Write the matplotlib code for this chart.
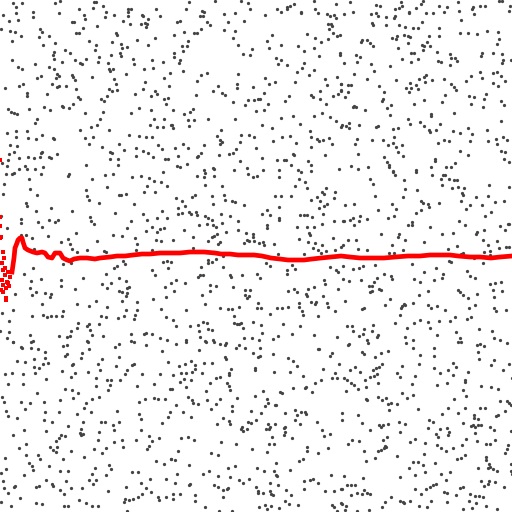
import matplotlib
matplotlib.use("Agg")
import matplotlib.pyplot as plt
import numpy as np

dots_top = [
    (13,3),(22,3),(55,3),(60,1),(16,7),(16,13),(33,12),(59,13),(3,15),(33,17),(9,21),(18,20),(72,22),(74,22),(79,9),(84,15),
    (85,19),(94,2),(96,2),(93,8),(103,6),(106,12),(105,17),(114,15),(83,28),(97,26),(128,9),(131,9),(128,12),(128,16),(123,21),
    (130,24),(142,15),(143,16),(148,19),(141,24),(145,23),(147,24),(146,27),(156,9),(160,16),(1,29),(10,31),(15,32),(21,36),
    (12,41),(40,29),(42,32),(39,37),(49,36),(76,33),(79,33),(89,41),(116,33),(117,35),(112,42),(96,45),(95,50),(121,44),(122,48),
    (127,47),(137,40),(148,45),(155,38),(43,45),(55,43),(54,52),(53,55),(54,59),(65,50),(70,53),(75,60),(80,63),(82,64),(86,59),
    (99,57),(98,62),(111,55),(120,53),(121,56),(133,59),(134,64),(108,63),(12,60),(35,64),(18,67),(22,69),(49,67),(54,69),(62,62),
    (152,60),(163,62),(153,68),(144,69),(170,73),(126,74),(109,69),(110,71),(113,69),(92,77),(57,74),(59,76),(56,78),(41,76),
    (37,78),(72,75),(73,77),(75,80),(114,79),(116,84),(145,82),(164,78),(169,86),(5,88),(19,86),(23,84),(52,84),(57,87),(59,86),
    (66,86),(76,89),(109,89),(112,91),(117,90),(135,94),(143,89),(155,91),(157,94),(151,96),(27,93),(27,96),(47,94),(78,97),
    (80,99),(101,99),(104,101),(107,96),(164,99),(168,98),(166,104),(8,109),(11,112),(14,113),(17,114),(29,109),(44,107),
    (50,110),(62,106),(63,107),(69,108),(73,104),(85,113),(103,112),(131,113),(139,108),(151,110),(37,119),(35,123),(100,119),
    (154,119),(164,119),(150,125),(157,127),(163,127),(171,125),(97,125),(91,127),(80,130),(7,133),(16,131),(27,131),(42,135),
    (16,137),(28,138),(36,139),(53,138),(54,139),(85,138),(93,137),(109,130),(129,135),(139,136),(146,137),(152,137),(10,145),
    (17,146),(89,144),(102,147),(119,144),(136,148),(158,145),(162,149),(14,152),(9,154),(41,153),(42,152),(57,154),(110,152),
    (112,153),(124,150),(143,151),(148,153),(136,156),(153,157),(165,159),(168,159),(19,158),(28,157),(34,158),(49,157),(51,158),
    (40,157),(110,159),(118,159),(8,160),(2,163),(7,166),(25,166),(19,169),(27,169),(35,169),(43,167),(86,165),(118,165),
    (189,2),(215,1),(241,1),(248,3),(186,9),(202,11),(204,12),(200,16),(203,16),(224,14),(235,13),(250,9),(265,15),(277,9),
    (281,12),(287,9),(287,7),(290,6),(294,4),(301,12),(301,13),(314,1),(315,9),(318,13),(336,4),(327,14),(330,16),(334,15),
    (336,18),(328,24),(331,24),(332,26),(329,29),(333,33),(337,36),(340,35),(177,22),(180,21),(207,22),(210,25),(228,22),
    (244,21),(224,30),(235,31),(194,33),(197,33),(201,29),(174,35),(184,32),(188,41),(187,46),(182,46),(183,51),(174,53),
    (174,57),(180,60),(179,63),(233,38),(238,45),(252,49),(250,55),(243,54),(272,35),(267,41),(269,48),(281,45),(307,34),
    (315,38),(321,42),(328,39),(298,46),(304,51),(314,48),(319,56),(340,53),(340,55),(276,58),(281,60),(278,64),(287,65),
    (304,63),(302,68),(297,72),(314,70),(309,75),(183,71),(201,75),(207,73),(238,74),(197,81),(218,86),(237,84),(237,88),
    (253,87),(265,78),(269,84),(275,82),(295,82),(325,79),(337,77),(327,85),(341,84),(320,91),(341,91),(213,91),(222,93),
    (225,95),(196,95),(264,93),(260,99),(258,99),(254,100),(248,100),(245,105),(233,102),(268,104),(289,96),(285,101),(311,95),
    (313,97),(320,99),(326,104),(333,96),(338,94),(173,110),(184,114),(190,112),(193,109),(188,120),(194,120),(189,126),
    (208,119),(235,119),(256,111),(264,110),(281,118),(293,116),(314,116),(322,113),(330,117),(336,121),(341,127),(172,125),
    (173,128),(262,125),(272,128),(300,124),(310,131),(221,130),(217,136),(220,140),(222,142),(220,144),(241,135),(240,142),
    (249,135),(254,137),(273,141),(282,137),(290,136),(296,143),(311,137),(311,147),(317,139),(319,141),(323,140),(329,138),
    (332,144),(175,148),(183,144),(188,148),(204,145),(201,153),(197,157),(198,156),(178,156),(219,155),(229,154),(233,153),
    (236,149),(256,148),(262,158),(277,160),(284,160),(286,160),(293,154),(294,155),(308,161),(311,165),(325,155),(177,166),
    (180,167),(187,164),(204,170),(213,168),(214,169),(234,170),(240,161),(247,168),(263,170),(279,170),(291,165),(298,170),
    (339,169),
    (350,2),(376,5),(380,6),(401,2),(402,6),(399,8),(395,9),(421,4),(423,1),(439,6),(447,7),(458,2),(459,11),(473,7),(472,9),
    (474,14),(480,6),(485,6),(499,1),(502,1),(510,6),(509,11),(344,14),(353,12),(371,14),(376,13),(378,16),(386,17),(394,18),
    (395,16),(409,12),(409,13),(416,8),(426,13),(433,13),(444,12),(461,20),(422,22),(418,28),(439,28),(439,36),(429,36),
    (460,33),(468,33),(477,34),(487,31),(498,32),(372,23),(373,25),(386,25),(399,25),(405,27),(413,28),(392,38),(396,39),
    (397,36),(404,35),(408,36),(410,37),(408,43),(361,42),(362,40),(367,40),(370,43),(373,46),(398,48),(411,53),(414,53),
    (422,45),(424,46),(427,42),(430,46),(423,50),(437,52),(450,54),(451,58),(455,58),(457,61),(450,65),(438,61),(441,62),
    (402,59),(411,62),(418,59),(356,55),(360,57),(357,62),(344,63),(371,64),(374,71),(390,66),(354,74),(367,79),(499,39),
    (497,44),(493,53),(482,53),(481,56),(502,54),(503,60),(502,63),(511,60),(480,72),(493,73),(497,72),(501,76),(505,81),
    (493,83),(498,86),(466,81),(471,76),(482,78),(341,84),(348,85),(351,85),(341,90),(348,92),(345,97),(379,86),(384,92),
    (383,99),(382,101),(387,108),(391,105),(390,115),(396,80),(406,88),(410,83),(411,88),(416,85),(418,89),(409,92),(419,79),
    (424,77),(426,75),(425,82),(432,80),(444,79),(451,84),(454,87),(456,90),(445,95),(442,102),(424,100),(414,104),(469,96),
    (474,97),(486,94),(484,99),(471,104),(483,107),(501,101),(504,105),(354,106),(353,107),(356,107),(365,110),(431,114),
    (431,116),(454,113),(342,125),(346,126),(349,123),(349,128),(359,125),(376,127),(378,126),(408,119),(410,124),(393,129),
    (398,128),(420,122),(424,126),(429,130),(430,132),(436,130),(440,124),(453,131),(460,133),(468,128),(472,134),(487,130),
    (501,121),(357,139),(355,144),(372,140),(383,140),(394,137),(393,143),(396,147),(388,145),(402,145),(398,152),(403,156),
    (438,143),(444,140),(449,141),(460,151),(470,141),(468,155),(488,141),(496,139),(497,144),(503,137),(507,140),(501,151),
    (505,152),(358,154),(384,157),(387,162),(389,165),(389,167),(393,171),(351,166),(358,169),(368,167),(416,170),(431,167),
    (435,159),(435,161),(446,167),(451,167),(455,163),(504,159),(509,162),
]

dots_middle = [
    (6,174),(12,174),(14,173),(41,174),(68,176),(69,174),(92,179),(105,175),(113,174),(132,177),(141,176),(149,178),(154,181),
    (163,172),(161,182),(4,184),(30,189),(29,179),(107,187),(86,190),(87,196),(89,200),(99,203),(119,195),(126,194),(121,195),
    (144,192),(147,186),(155,192),(167,186),(3,194),(37,195),(26,203),(27,206),(36,211),(51,208),(72,211),(115,213),(134,204),
    (143,214),(162,211),(157,218),(167,218),(1,216),(21,219),(21,223),(38,222),(42,227),(49,220),(55,222),(58,220),(90,217),
    (91,221),(94,224),(131,221),(147,220),(152,227),(164,228),(7,228),(127,228),(146,231),(160,229),(135,238),(137,244),
    (156,240),(161,241),(157,232),(21,235),(26,235),(32,238),(48,236),(61,242),(68,239),(70,244),(76,233),(72,249),(97,241),
    (113,235),(122,236),(104,251),(106,252),(77,252),(87,250),(136,250),(152,250),(34,249),(167,261),(168,268),(163,262),
    (63,264),(71,263),(33,268),(114,268),(117,266),(123,261),(125,264),(152,270),(155,275),(24,274),(31,281),(41,279),(61,280),
    (61,286),(83,278),(75,289),(106,274),(102,284),(107,288),(111,283),(119,278),(126,281),(127,288),(129,287),(119,291),
    (122,292),(127,293),(165,287),(15,294),(30,288),(36,292),(45,293),(51,294),(50,297),(32,295),(77,304),(96,301),(122,301),
    (126,296),(137,302),(137,310),(153,299),(166,297),(42,304),(13,310),(2,313),(9,321),(32,316),(43,315),(47,317),(51,316),
    (56,316),(62,316),(63,311),(78,323),(89,306),(89,324),(87,326),(99,324),(101,316),(106,317),(107,307),(118,318),(124,316),
    (126,310),(134,319),(135,315),(161,309),(166,317),(30,335),(33,341),(7,338),(13,342),(59,336),(67,337),(70,336),(71,331),
    (90,330),(92,335),(87,341),(103,336),(131,334),(131,341),(144,334),(146,333),(152,334),(160,338),(167,340),(77,328),
    (0,331),(9,332),
    (197,176),(204,177),(205,173),(214,176),(205,185),(222,186),(248,174),(253,177),(257,176),(279,177),(299,179),(301,172),
    (305,182),(311,171),(295,186),(307,188),(326,188),(322,192),(324,194),(320,201),(335,192),(334,198),(317,197),(311,200),
    (291,196),(281,196),(275,196),(279,207),(279,220),(270,215),(267,210),(262,214),(176,198),(192,197),(195,195),(182,201),
    (185,206),(178,208),(178,214),(182,213),(189,212),(191,214),(196,212),(197,215),(205,216),(212,196),(213,204),(224,195),
    (225,200),(232,201),(235,202),(244,205),(221,214),(230,216),(222,223),(208,218),(212,220),(199,225),(213,225),(207,224),
    (216,227),(226,232),(217,234),(214,236),(218,244),(220,242),(208,241),(212,237),(193,237),(184,230),(173,240),(193,248),
    (238,221),(246,233),(253,234),(249,241),(244,243),(247,240),(254,241),(253,237),(259,243),(263,242),(264,245),(238,230),
    (267,225),(267,228),(274,244),(279,218),(300,215),(304,215),(307,215),(312,217),(319,208),(324,206),(327,204),(323,214),
    (334,221),(322,224),(314,227),(307,227),(297,227),(299,239),(309,233),(310,235),(308,242),(315,243),(322,245),(313,248),
    (318,250),(321,253),(326,251),(333,238),(335,250),(304,254),(278,254),(171,262),(208,260),(208,263),(212,262),(216,259),
    (223,256),(223,267),(266,263),(270,266),(287,270),(287,274),(292,265),(295,269),(330,267),(336,270),(338,272),(176,280),
    (171,283),(174,291),(185,283),(198,277),(200,275),(203,275),(201,267),(230,275),(231,277),(242,275),(257,274),(260,278),
    (233,287),(210,285),(210,291),(216,286),(202,295),(205,304),(245,290),(250,290),(245,295),(247,298),(249,296),(288,291),
    (294,289),(297,292),(308,289),(307,296),(306,294),(314,287),(324,280),(325,284),(338,289),(323,296),(311,302),(316,302),
    (315,304),(327,303),(328,307),(335,311),(299,303),(299,307),(302,311),(303,315),(318,316),(220,308),(228,309),(232,309),
    (234,316),(239,307),(258,303),(257,308),(261,308),(277,308),(282,308),(288,307),(270,314),(186,310),(173,320),(176,326),
    (190,326),(198,325),(203,322),(207,323),(208,329),(212,330),(234,323),(237,324),(239,324),(241,323),(243,328),(253,322),
    (261,325),(262,333),(259,340),(252,338),(244,338),(283,324),(292,334),(300,326),(314,335),(337,337),(273,339),(278,336),
    (199,331),(200,337),(205,341),(213,340),(186,340),
    (393,172),(395,175),(416,172),(432,175),(441,179),(443,175),(445,175),(449,179),(454,180),(457,180),(442,185),(452,188),
    (458,187),(464,188),(462,193),(463,195),(489,185),(509,187),(370,179),(373,184),(404,180),(405,189),(417,190),(403,197),
    (375,196),(421,201),(423,203),(428,204),(429,207),(439,203),(461,201),(470,205),(476,197),(488,196),(495,202),(504,201),
    (482,205),(466,209),(491,212),(485,216),(345,205),(354,204),(378,210),(392,204),(396,209),(394,216),(388,218),(421,210),
    (416,213),(459,221),(465,225),(344,221),(343,221),(350,220),(353,218),(354,225),(359,221),(360,216),(367,219),(412,222),
    (412,225),(408,225),(381,234),(399,234),(398,237),(405,240),(392,245),(403,250),(389,253),(394,253),(424,242),(430,227),
    (442,234),(453,233),(477,232),(476,234),(484,230),(500,226),(508,224),(509,224),(505,230),(483,240),(488,245),(484,252),
    (490,251),(499,248),(506,247),(509,247),(497,241),(461,254),(463,253),(457,246),(448,249),(474,258),(483,263),(490,255),
    (348,240),(356,240),(343,245),(341,247),(358,249),(367,250),(343,266),(353,269),(359,268),(363,266),(375,265),(384,274),
    (391,276),(392,279),(377,278),(374,282),(349,281),(361,280),(343,279),(412,264),(414,279),(420,282),(424,272),(436,268),
    (443,274),(442,278),(434,280),(449,261),(451,262),(467,271),(470,276),(475,278),(490,284),(495,283),(501,282),(502,291),
    (493,290),(494,297),(458,290),(460,292),(463,295),(468,298),(477,294),(345,301),(362,309),(364,308),(369,286),(372,286),
    (370,292),(372,291),(379,289),(381,290),(390,299),(385,305),(402,306),(404,304),(401,308),(405,305),(413,303),(419,295),
    (428,291),(428,305),(431,308),(437,306),(445,310),(455,317),(450,321),(439,321),(420,320),(428,322),(430,328),(400,315),
    (395,323),(407,328),(414,323),(469,308),(475,305),(494,308),(496,311),(506,310),(467,319),(471,317),(347,326),(352,326),
    (353,331),(364,329),(373,325),(372,331),(359,336),(363,334),(367,340),(377,337),(378,335),(405,337),(413,340),(437,335),
    (456,332),(460,338),(458,342),(479,329),(494,338),(492,331),(500,340),
]

dots_bottom = [
    (13,342),(31,342),(21,347),(22,348),(31,348),(38,349),(45,352),(63,346),(67,345),(88,342),(89,349),(115,347),(119,344),
    (134,342),(146,345),(162,351),(45,358),(34,359),(17,361),(25,362),(43,364),(48,363),(39,368),(34,367),(65,356),(67,354),
    (82,353),(81,358),(73,364),(72,365),(62,371),(75,373),(88,372),(98,364),(102,359),(100,370),(119,357),(116,366),(132,365),
    (134,364),(127,370),(125,374),(142,374),(168,362),(160,374),(5,374),(12,373),(23,374),(35,373),(8,384),(23,384),(46,379),
    (71,377),(96,378),(96,386),(107,380),(111,380),(110,385),(120,380),(108,390),(137,386),(154,384),(65,389),(72,390),(78,393),
    (37,393),(2,397),(4,402),(21,402),(30,403),(44,402),(60,400),(73,398),(86,403),(92,399),(99,397),(139,402),(145,399),
    (154,398),(158,399),(165,399),(170,389),(6,411),(8,416),(17,418),(25,409),(45,412),(44,420),(59,412),(77,414),(84,408),
    (91,412),(117,411),(139,414),(141,419),(170,412),(168,417),(162,423),(52,422),(68,426),(83,422),(101,422),(105,422),
    (113,425),(119,422),(114,430),(141,430),(149,436),(152,441),(159,438),(136,440),(147,449),(149,446),(99,432),(98,440),
    (81,429),(80,433),(83,434),(81,435),(24,430),(46,431),(13,435),(65,436),(61,435),(59,438),(56,441),(19,448),(26,444),
    (50,447),(53,450),(57,447),(56,452),(71,451),(94,449),(102,453),(106,448),(114,442),(122,440),(123,447),(5,458),(26,455),
    (38,455),(40,459),(63,459),(84,457),(29,463),(32,466),(33,470),(6,469),(1,473),(49,466),(60,471),(68,471),(95,468),
    (109,465),(111,469),(106,475),(132,472),(138,472),(156,461),(164,464),(171,459),(166,479),(150,479),(141,483),(126,487),
    (3,481),(4,488),(8,493),(14,487),(15,486),(24,475),(36,487),(39,486),(46,480),(52,484),(53,486),(60,490),(64,494),(71,488),
    (82,488),(66,481),(89,480),(92,474),(96,480),(93,484),(108,491),(151,492),(158,497),(159,500),(166,497),(138,497),
    (142,494),(146,488),(133,499),(129,500),(125,499),(124,502),(127,511),(79,500),(86,503),(92,506),(98,506),(68,506),
    (64,506),(42,504),(36,503),(20,498),(11,506),(1,502),
    (176,344),(186,342),(206,342),(214,342),(220,344),(225,345),(226,343),(236,348),(239,345),(245,348),(253,353),(260,348),
    (258,357),(260,356),(273,354),(288,358),(293,361),(297,366),(290,372),(303,376),(318,349),(319,349),(332,353),(330,356),
    (339,364),(323,369),(335,373),(332,378),(337,378),(321,380),(315,383),(312,392),(306,387),(305,388),(293,388),(282,393),
    (280,392),(274,372),(255,368),(255,370),(263,391),(255,396),(267,399),(268,403),(265,406),(275,405),(276,405),(251,411),
    (261,413),(199,350),(212,363),(204,363),(191,361),(195,365),(185,364),(179,366),(195,369),(192,372),(181,373),(186,373),
    (202,373),(173,375),(184,379),(180,382),(191,380),(186,387),(172,389),(210,383),(216,378),(220,377),(227,383),(229,386),
    (230,390),(229,375),(229,373),(231,369),(225,357),(226,359),(206,391),(220,399),(216,404),(211,409),(207,400),(198,404),
    (193,403),(192,400),(188,397),(176,405),(183,412),(191,417),(232,406),(232,411),(237,398),(223,418),(217,424),(229,421),
    (230,424),(248,422),(251,423),(242,427),(241,429),(247,429),(243,431),(256,420),(268,424),(270,427),(269,429),(266,429),
    (275,424),(285,413),(295,410),(297,415),(295,420),(300,424),(301,412),(305,412),(306,414),(317,422),(322,430),(324,436),
    (330,434),(284,428),(285,432),(284,435),(285,427),(292,438),(272,437),(274,444),(269,444),(267,452),(252,449),(236,444),
    (221,442),(194,440),(188,437),(181,438),(178,451),(211,453),(218,455),(175,460),(171,459),(189,465),(177,474),(175,483),
    (190,484),(189,485),(203,474),(209,471),(214,485),(218,476),(218,487),(223,490),(227,489),(228,488),(223,497),(230,477),
    (228,468),(235,466),(239,480),(243,483),(249,479),(256,487),(258,493),(258,491),(263,493),(270,491),(271,494),(273,495),
    (270,483),(277,476),(276,475),(274,471),(264,471),(257,468),(276,463),(290,470),(299,461),(303,459),(307,447),(328,448),
    (318,453),(307,451),(310,480),(313,479),(318,483),(304,481),(304,489),(325,491),(334,491),(331,475),(342,489),(286,490),
    (291,495),(285,501),(289,504),(298,505),(278,485),(271,506),(279,508),(259,507),(265,505),(267,509),(232,511),(219,511),
    (205,507),(195,501),(195,495),(180,494),(173,494),(173,499),(341,503),(332,505),(334,507),(337,511),
    (349,344),(348,345),(368,343),(362,352),(364,354),(375,357),(381,353),(388,351),(406,343),(413,348),(420,355),(434,348),
    (434,356),(461,342),(477,345),(480,344),(484,346),(478,352),(479,359),(507,343),(494,360),(491,365),(509,364),(503,370),
    (512,378),(355,367),(350,370),(360,372),(373,370),(376,368),(379,367),(382,364),(377,374),(374,376),(370,377),(365,380),
    (347,380),(344,378),(351,383),(354,385),(358,389),(346,391),(378,383),(366,387),(397,373),(400,377),(402,366),(415,376),
    (412,384),(419,364),(434,368),(440,373),(448,370),(453,363),(456,367),(453,375),(468,372),(465,380),(465,382),(447,383),
    (437,385),(463,390),(466,396),(481,386),(491,387),(498,389),(378,397),(382,400),(386,398),(388,404),(391,403),(389,410),
    (397,404),(402,393),(407,398),(413,395),(418,409),(366,399),(367,400),(454,399),(448,408),(442,414),(458,413),(465,408),
    (463,423),(480,408),(485,408),(474,415),(474,418),(478,419),(500,401),(507,401),(509,403),(511,405),(505,411),(498,415),
    (496,416),(358,415),(362,423),(370,430),(379,425),(381,427),(383,425),(388,424),(399,422),(405,424),(429,420),(433,422),
    (428,428),(440,429),(436,434),(438,437),(447,428),(449,432),(448,435),(471,426),(473,425),(475,427),(478,425),(475,433),
    (481,425),(490,427),(494,430),(511,431),(342,413),(342,420),(383,440),(387,437),(385,446),(384,448),(386,447),(378,451),
    (381,450),(375,458),(352,440),(348,444),(359,441),(364,451),(366,461),(400,432),(410,442),(415,439),(425,443),(437,445),
    (441,448),(446,451),(453,448),(462,445),(466,439),(477,441),(495,440),(486,444),(490,444),(508,445),(505,453),(507,449),
    (461,458),(465,455),(457,459),(486,457),(486,460),(489,464),(490,467),(488,468),(493,469),(497,471),(478,468),(511,464),
    (511,471),(512,474),(397,456),(413,462),(418,462),(423,465),(424,454),(415,475),(400,477),(409,468),(425,472),(435,463),
    (441,474),(450,472),(446,480),(436,484),(433,485),(430,487),(426,489),(421,494),(415,489),(391,497),(385,502),(382,507),
    (370,494),(367,493),(362,494),(364,490),(357,493),(351,495),(347,485),(351,485),(355,485),(344,476),(363,478),(341,489),
    (342,504),(346,506),(345,510),(357,511),(369,510),(400,501),(404,503),(403,502),(410,501),(419,506),(427,507),(431,501),
    (444,492),(447,493),(456,495),(447,502),(460,488),(463,487),(469,501),(470,494),(475,496),(479,496),(483,497),(472,508),
    (476,503),(463,509),(481,481),(484,486),(488,484),(489,481),(495,482),(504,487),(486,506),(497,509),
]

# red running average: scattered start, then a settled line
red_start_x = [0, 0, 0, 1, 0, 3, 2, 3, 8, 5, 2, 7, 3, 8, 1, 6, 6, 6, 10, 12, 3, 5, 9, 4]
red_start_y = [160, 217, 226, 237, 238, 252, 263, 270, 272, 275, 280, 282, 285, 283, 290, 288, 298, 300, 277, 272,
               292, 268, 286, 258]
red_x = [12, 13, 14, 15, 17, 18, 20, 22, 23, 25, 28, 33, 37, 42, 45, 48, 52, 55, 60, 63, 67, 70, 74, 80, 87, 95, 100,
         110, 117, 125, 133, 142, 150, 160, 170, 180, 190, 204, 215, 221, 230, 238, 246, 254, 262, 271, 280, 288, 296,
         304, 312, 321, 331, 341, 350, 360, 368, 376, 384, 395, 408, 420, 430, 441, 450, 458, 470, 480, 491, 500, 512]
red_y = [272, 265, 258, 248, 243, 240, 238, 238, 242, 248, 250, 252, 253, 252, 253, 257, 258, 253, 253, 258, 260, 261,
         259, 258, 258, 259, 258, 257, 256, 256, 255, 254, 254, 253, 253, 253, 252, 252, 253, 254, 254, 255, 255, 255,
         256, 258, 259, 260, 260, 260, 259, 258, 257, 256, 257, 258, 258, 258, 258, 257, 256, 256, 255, 255, 255, 256,
         257, 257, 258, 257, 256]

dots = dots_top + dots_middle + dots_bottom
dot_x = [p[0] for p in dots]
dot_y = [p[1] for p in dots]

fig = plt.figure(figsize=(5.12, 5.12), dpi=100)
ax = fig.add_axes([0, 0, 1, 1])
ax.scatter(dot_x, dot_y, s=5.5, color="#444444", linewidths=0, zorder=1)
ax.scatter(red_start_x, red_start_y, s=8, marker="s", color="#ff0000", linewidths=0, zorder=2)
ax.plot(red_x, red_y, color="#ff0000", lw=3.4, zorder=3, solid_joinstyle="round")
ax.set_xlim(0, 512)
ax.set_ylim(512, 0)
ax.axis("off")
fig.savefig("out.png", dpi=100)
